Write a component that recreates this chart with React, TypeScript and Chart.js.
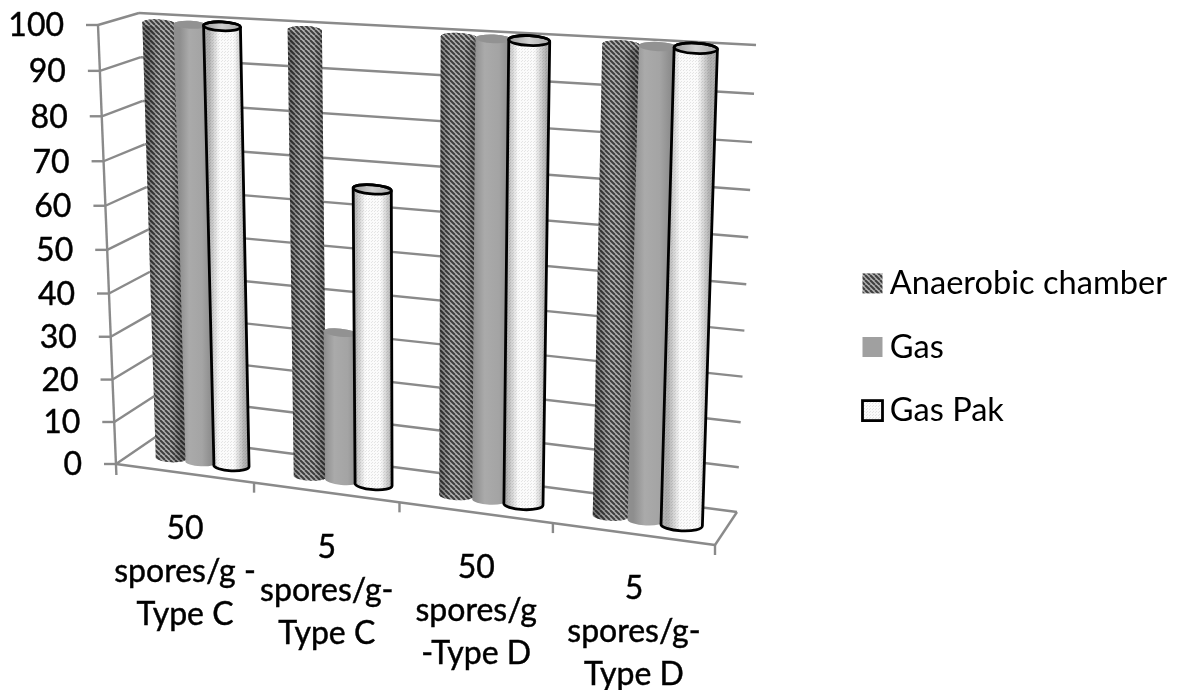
import React, { useEffect, useRef } from "react";
import { Chart, registerables } from "chart.js";

Chart.register(...registerables);

const categories: string[][] = [
  ["50", "spores/g -", "Type C"],
  ["5", "spores/g-", "Type C"],
  ["50", "spores/g", "-Type D"],
  ["5", "spores/g-", "Type D"],
];
const anaerobicChamber = [100, 100, 100, 100];
const gas = [100, 34, 100, 100];
const gasPak = [100, 66.5, 100, 100];
const seriesNames = ["Anaerobic chamber", "Gas", "Gas Pak"];

const FONT = "Lato, sans-serif";
const LABEL_SIZE = 32;
const LEGEND_SIZE = 32.6;
const LEGEND_BOX = 11;
const LINE_GAP = 43;
const GRID = "#8a8a8a";
const TEXT_WEIGHT = 0.45;

type Pt = { x: number; y: number };
const lerp = (a: Pt, b: Pt, t: number): Pt => ({ x: a.x + (b.x - a.x) * t, y: a.y + (b.y - a.y) * t });
const warpU = (u: number) => u / (u + (1 - u) * 1.113);
const warpV = (v: number) => v / (v + (1 - v) * 1.05);

// 3D frame of the picture
const FRONT_LEFT_BOTTOM = { x: 116, y: 464 };
const FRONT_LEFT_TOP = { x: 98, y: 25 };
const BACK_LEFT_BOTTOM = { x: 157, y: 436 };
const BACK_LEFT_TOP = { x: 139, y: 13 };
const BACK_RIGHT_BOTTOM = { x: 737, y: 512 };
const BACK_RIGHT_TOP = { x: 756, y: 45 };
const FRONT_RIGHT_BOTTOM = { x: 715, y: 545 };
// plane in which the bars stand
const BAR_BL = { x: 133.5, y: 453 };
const BAR_BR = { x: 727.5, y: 531 };
const BAR_TL = { x: 119, y: 21.5 };
const BAR_TR = { x: 744, y: 50.5 };

const project = (u: number, v: number): Pt => {
  const t = warpU(u);
  return lerp(lerp(BAR_BL, BAR_BR, t), lerp(BAR_TL, BAR_TR, t), warpV(v));
};

function makeStripes(): CanvasPattern {
  const c = document.createElement("canvas");
  c.width = 5;
  c.height = 5;
  const g = c.getContext("2d")!;
  g.fillStyle = "#b0b0b0";
  g.fillRect(0, 0, 5, 5);
  g.strokeStyle = "#3d3d3d";
  g.lineWidth = 2;
  for (let i = -5; i <= 5; i += 5) {
    g.beginPath();
    g.moveTo(i, 0);
    g.lineTo(i + 5, 5);
    g.stroke();
  }
  return g.createPattern(c, "repeat")!;
}

function makeDots(): CanvasPattern {
  const c = document.createElement("canvas");
  c.width = 3;
  c.height = 3;
  const g = c.getContext("2d")!;
  g.fillStyle = "#fbfbfb";
  g.fillRect(0, 0, 3, 3);
  g.fillStyle = "#e4e4e4";
  g.fillRect(0, 0, 1, 1);
  g.fillRect(2, 1, 1, 1);
  return g.createPattern(c, "repeat")!;
}

const line = (ctx: CanvasRenderingContext2D, a: Pt, b: Pt) => {
  ctx.beginPath();
  ctx.moveTo(a.x, a.y);
  ctx.lineTo(b.x, b.y);
  ctx.stroke();
};

function drawCylinders(chart: any, index: number) {
  const ctx: CanvasRenderingContext2D = chart.ctx;
  const area = chart.chartArea;
  const ds = chart.data.datasets[index];
  const kind = index;
  const grow = kind === 2 ? 0.003 : 0;
  for (const el of chart.getDatasetMeta(index).data) {
    const { x, y, base, width } = el.getProps(["x", "y", "base", "width"], true);
    const uL = (x - width / 2 - area.left) / area.width - grow;
    const uR = (x + width / 2 - area.left) / area.width + grow;
    const vT = (area.bottom - y) / area.height;
    const vB = (area.bottom - base) / area.height;
    const bl = project(uL, vB);
    const br = project(uR, vB);
    const tl = project(uL, vT);
    const tr = project(uR, vT);
    const bc = lerp(bl, br, 0.5);
    const tc = lerp(tl, tr, 0.5);
    const rot = Math.atan2(tr.y - tl.y, tr.x - tl.x);
    const rxT = Math.hypot(tr.x - tl.x, tr.y - tl.y) / 2;
    const rxB = Math.hypot(br.x - bl.x, br.y - bl.y) / 2;
    const ryT = rxT * 0.24;
    const ryB = rxB * 0.28;

    const body = () => {
      ctx.beginPath();
      ctx.moveTo(tl.x, tl.y);
      ctx.lineTo(bl.x, bl.y);
      ctx.ellipse(bc.x, bc.y, rxB, ryB, rot, Math.PI, 0, true);
      ctx.lineTo(tr.x, tr.y);
      ctx.ellipse(tc.x, tc.y, rxT, ryT, rot, 0, Math.PI, true);
      ctx.closePath();
    };
    const x0 = (tl.x + bl.x) / 2;
    const x1 = (tr.x + br.x) / 2;

    ctx.save();
    body();
    if (kind === 1) {
      const g = ctx.createLinearGradient(x0, 0, x1, 0);
      g.addColorStop(0, "#8e8e8e");
      g.addColorStop(0.3, "#aaaaaa");
      g.addColorStop(0.7, "#a4a4a4");
      g.addColorStop(1, "#8c8c8c");
      ctx.fillStyle = g;
    } else {
      ctx.fillStyle = ds.backgroundColor;
    }
    ctx.fill();
    if (kind !== 1) {
      const g = ctx.createLinearGradient(x0, 0, x1, 0);
      const edge = "rgba(0,0,0,0.3)";
      g.addColorStop(0, edge);
      g.addColorStop(0.3, "rgba(0,0,0,0)");
      g.addColorStop(0.7, "rgba(0,0,0,0)");
      g.addColorStop(1, edge);
      ctx.fillStyle = g;
      ctx.fill();
    }
    // cap
    ctx.beginPath();
    ctx.ellipse(tc.x, tc.y, rxT, ryT, rot, 0, Math.PI * 2);
    if (kind === 0) {
      ctx.fillStyle = ds.backgroundColor;
      ctx.fill();
    } else if (kind === 1) {
      ctx.fillStyle = "#929292";
      ctx.fill();
    } else {
      const g = ctx.createLinearGradient(tl.x, 0, tr.x, 0);
      g.addColorStop(0, "#9c9c9c");
      g.addColorStop(0.5, "#d0d0d0");
      g.addColorStop(1, "#a8a8a8");
      ctx.fillStyle = g;
      ctx.fill();
    }
    if (kind === 2) {
      ctx.strokeStyle = ds.borderColor;
      ctx.lineWidth = ds.borderWidth;
      body();
      ctx.stroke();
      ctx.beginPath();
      ctx.ellipse(tc.x, tc.y, rxT, ryT, rot, 0, Math.PI * 2);
      ctx.stroke();
    }
    ctx.restore();
  }
}

const framePlugin = {
  id: "frame3d",
  beforeDatasetsDraw(chart: any) {
    const ctx: CanvasRenderingContext2D = chart.ctx;
    const yScale = chart.scales.y;
    const xScale = chart.scales.x;
    const area = chart.chartArea;
    ctx.save();
    ctx.strokeStyle = GRID;
    ctx.lineWidth = 2.4;
    ctx.lineCap = "butt";
    const ticks = yScale.ticks;
    for (const tick of ticks) {
      const v = (area.bottom - yScale.getPixelForValue(tick.value)) / area.height;
      const t = warpV(v);
      const front = lerp(FRONT_LEFT_BOTTOM, FRONT_LEFT_TOP, t);
      const backL = lerp(BACK_LEFT_BOTTOM, BACK_LEFT_TOP, t);
      const backR = lerp(BACK_RIGHT_BOTTOM, BACK_RIGHT_TOP, t);
      line(ctx, { x: front.x - 12, y: front.y }, front);
      line(ctx, front, backL);
      line(ctx, backL, backR);
    }
    line(ctx, FRONT_LEFT_TOP, { x: FRONT_LEFT_BOTTOM.x + 0.4, y: FRONT_LEFT_BOTTOM.y + 11 });
    line(ctx, FRONT_LEFT_BOTTOM, FRONT_RIGHT_BOTTOM);
    line(ctx, FRONT_RIGHT_BOTTOM, BACK_RIGHT_BOTTOM);
    const n = xScale.ticks.length;
    for (let i = 1; i <= n; i++) {
      const p = lerp(FRONT_LEFT_BOTTOM, FRONT_RIGHT_BOTTOM, warpU(i / n));
      line(ctx, p, { x: p.x, y: p.y + 10 });
    }
    ctx.restore();
    chart.data.datasets.forEach((_: any, i: number) => drawCylinders(chart, i));
  },
  beforeDatasetDraw() {
    return false;
  },
  afterDatasetsDraw(chart: any) {
    const ctx: CanvasRenderingContext2D = chart.ctx;
    const yScale = chart.scales.y;
    const xScale = chart.scales.x;
    const area = chart.chartArea;
    ctx.save();
    ctx.fillStyle = "#000000";
    ctx.strokeStyle = "#000000";
    ctx.lineWidth = TEXT_WEIGHT;
    ctx.font = `${LABEL_SIZE}px ${FONT}`;
    ctx.textBaseline = "middle";
    ctx.textAlign = "right";
    const put = (s: string, x: number, y: number) => {
      ctx.fillText(s, x, y);
      ctx.strokeText(s, x, y);
    };
    for (const tick of yScale.ticks) {
      const v = (area.bottom - yScale.getPixelForValue(tick.value)) / area.height;
      const p = lerp(FRONT_LEFT_BOTTOM, FRONT_LEFT_TOP, warpV(v));
      put(String(tick.label), p.x - 34, p.y + 1);
    }
    ctx.textAlign = "center";
    const n = xScale.ticks.length;
    xScale.ticks.forEach((tick: any, i: number) => {
      const p = lerp(FRONT_LEFT_BOTTOM, FRONT_RIGHT_BOTTOM, (warpU(i / n) + warpU((i + 1) / n)) / 2);
      const lines: string[] = Array.isArray(tick.label) ? tick.label : [tick.label];
      lines.forEach((s, k) => put(s, p.x, p.y + 55 + k * LINE_GAP));
    });
    ctx.restore();
  },
  afterDraw(chart: any) {
    const ctx: CanvasRenderingContext2D = chart.ctx;
    const boxes = chart.legend.legendHitBoxes;
    ctx.save();
    boxes.forEach((b: any, i: number) => {
      const ds = chart.data.datasets[i];
      const cy = b.top + b.height / 2;
      const x = b.left;
      ctx.fillStyle = "#ffffff";
      ctx.fillRect(x - 2, cy - 13, 24, 26);
      ctx.fillStyle = ds.backgroundColor;
      ctx.fillRect(x, cy - 10, 20, 20);
      if (ds.borderWidth) {
        ctx.strokeStyle = ds.borderColor;
        ctx.lineWidth = ds.borderWidth;
        ctx.strokeRect(x, cy - 10, 20, 20);
      }
    });
    ctx.restore();
  },
};

export default function App() {
  const ref = useRef<HTMLCanvasElement>(null);
  useEffect(() => {
    const chart = new Chart(ref.current!, {
      type: "bar",
      data: {
        labels: categories as any,
        datasets: [
          { label: seriesNames[0], data: anaerobicChamber, backgroundColor: makeStripes(), borderColor: "rgba(0,0,0,0)", borderWidth: 0 },
          { label: seriesNames[1], data: gas, backgroundColor: "#a0a0a0", borderColor: "rgba(0,0,0,0)", borderWidth: 0 },
          { label: seriesNames[2], data: gasPak, backgroundColor: makeDots(), borderColor: "#000000", borderWidth: 2.8 },
        ] as any,
      },
      options: {
        responsive: false,
        animation: false,
        layout: { padding: { right: 7, top: 4 } },
        datasets: { bar: { categoryPercentage: 0.66, barPercentage: 1.04 } },
        scales: {
          x: { display: false, grid: { display: false } },
          y: { display: false, min: 0, max: 100, ticks: { stepSize: 10 }, grid: { display: false } },
        },
        plugins: {
          tooltip: { enabled: false },
          legend: {
            display: true,
            position: "right",
            labels: {
              color: "#000000",
              font: { family: FONT, size: LEGEND_SIZE },
              boxWidth: LEGEND_BOX,
              boxHeight: 20,
              padding: 31,
            },
          },
        },
      } as any,
      plugins: [framePlugin as any],
    });
    return () => chart.destroy();
  }, []);
  return (
    <div style={{ position: "absolute", left: 0, top: 0, width: 1184, height: 690, background: "#fff" }}>
      <canvas ref={ref} width={1184} height={690} style={{ display: "block", filter: "blur(0.5px)" }} />
    </div>
  );
}
